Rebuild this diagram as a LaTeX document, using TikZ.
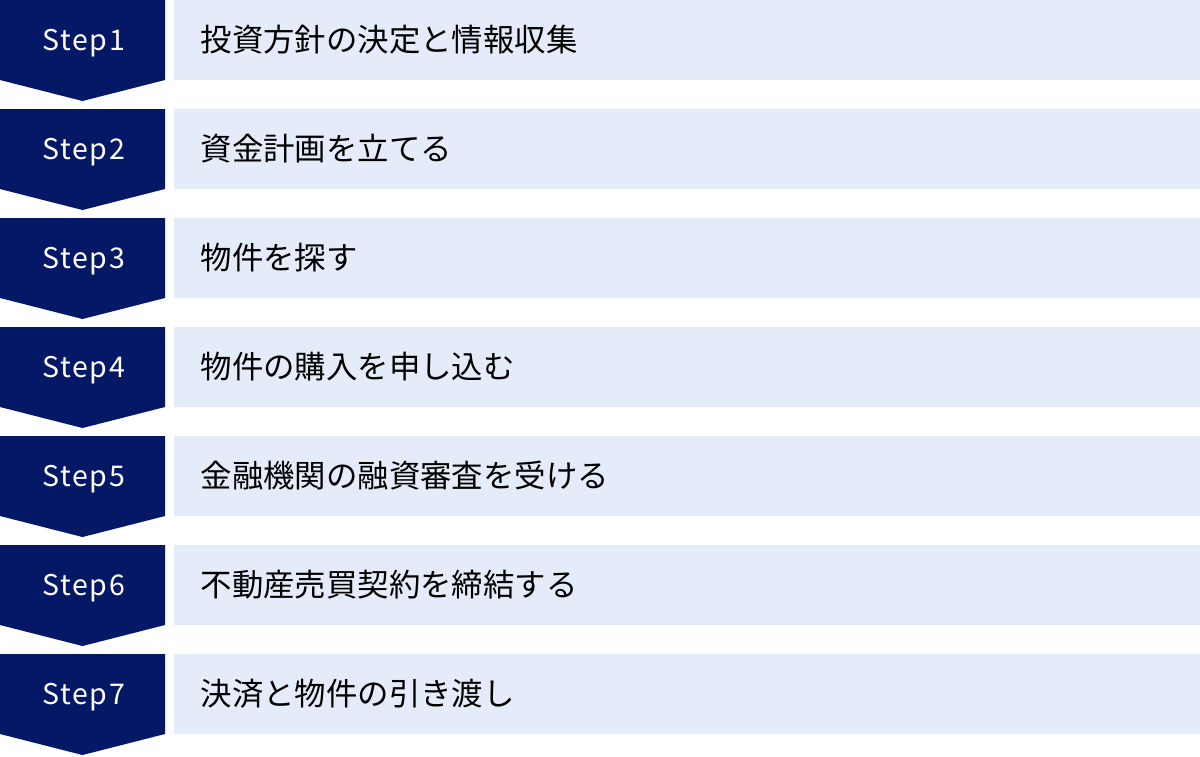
\documentclass[tikz,border=0pt]{standalone}
\usepackage{fontspec}
\setmainfont{Noto Sans CJK JP}
\newfontfamily\stepfont[LetterSpace=6]{Noto Sans CJK JP}
\definecolor{navy}{HTML}{041866}
\definecolor{pale}{HTML}{E5ECF9}
\tikzset{
  stepshape/.style={fill=navy, draw=none},
  bar/.style={fill=pale, draw=none},
  steplabel/.style={text=white, font=\stepfont\fontsize{28.5}{34}\selectfont, inner sep=0pt, anchor=base},
  tasklabel/.style={text=black, font=\fontsize{31.4}{36}\selectfont, inner sep=0pt, anchor=base west}
}
\begin{document}
\begin{tikzpicture}[x=1pt,y=-1pt]
\useasboundingbox (0,0) rectangle (1200,756);
\foreach \i/\t in {1/投資方針の決定と情報収集,2/資金計画を立てる,3/物件を探す,4/物件の購入を申し込む,5/金融機関の融資審査を受ける,6/不動産売買契約を締結する,7/決済と物件の引き渡し}{
  \pgfmathsetmacro{\y}{(\i-1)*109}
  \fill[stepshape] (0,\y) -- (165,\y) -- (165,\y+80) -- (82.5,\y+101) -- (0,\y+80) -- cycle;
  \fill[bar] (174,\y) rectangle (1200,\y+80);
  \node[steplabel] (s\i) at (83.5,\y+50) {Step\i};
  \node[tasklabel] (t\i) at (200.5,\y+51.5) {\t};
}
\end{tikzpicture}
\end{document}
